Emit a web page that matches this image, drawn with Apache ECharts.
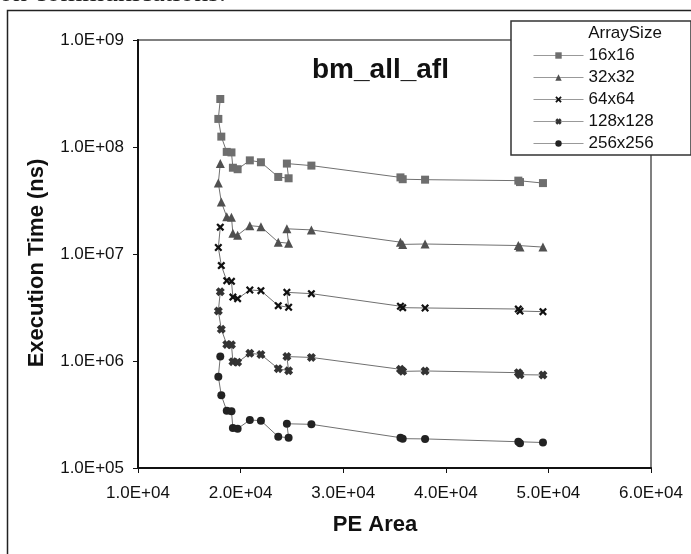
<!DOCTYPE html>
<html lang="en">
<head>
  <meta charset="UTF-8">
  <title>bm_all_afl</title>
  <style>
    html, body {margin: 0; padding: 0; background: #fff;}
    #chart {width: 691px; height: 554px;}
  </style>
</head>
<body>
  <div id="chart"></div>
  <script src="https://cdn.jsdelivr.net/npm/echarts@6/dist/echarts.min.js"></script>
  <script>
    // PE area (x) shared by all series, in plotting order
    var peArea = [18020, 17830, 18120, 18650, 19110, 19250, 19710, 20900, 21980, 23670,
                  24680, 24510, 26900, 35580, 35800, 37980, 47070, 47230, 49470];

    // execution time (ns), one array per array size
    var t16 = [2.81e8, 1.83e8, 1.25e8, 9.0e7, 8.9e7, 6.4e7, 6.2e7, 7.5e7, 7.2e7, 5.25e7,
               5.1e7, 7.0e7, 6.7e7, 5.2e7, 5.0e7, 4.95e7, 4.85e7, 4.7e7, 4.6e7];
    var t32 = [7.0e7, 4.6e7, 3.06e7, 2.23e7, 2.2e7, 1.56e7, 1.5e7, 1.84e7, 1.8e7, 1.29e7,
               1.26e7, 1.72e7, 1.68e7, 1.29e7, 1.23e7, 1.24e7, 1.2e7, 1.16e7, 1.16e7];
    var t64 = [1.78e7, 1.15e7, 7.8e6, 5.63e6, 5.55e6, 3.96e6, 3.82e6, 4.61e6, 4.54e6, 3.29e6,
               3.18e6, 4.38e6, 4.26e6, 3.25e6, 3.15e6, 3.13e6, 3.06e6, 2.93e6, 2.89e6];
    var t128 = [4.44e6, 2.93e6, 1.98e6, 1.43e6, 1.42e6, 9.86e5, 9.72e5, 1.18e6, 1.15e6, 8.48e5,
                8.1e5, 1.1e6, 1.08e6, 8.36e5, 8.0e5, 8.07e5, 7.78e5, 7.45e5, 7.4e5];
    var t256 = [1.1e6, 7.14e5, 4.78e5, 3.43e5, 3.39e5, 2.36e5, 2.33e5, 2.81e5, 2.77e5, 1.96e5,
                1.92e5, 2.59e5, 2.56e5, 1.92e5, 1.88e5, 1.87e5, 1.76e5, 1.70e5, 1.73e5];

    var sizeNames = ['16x16', '32x32', '64x64', '128x128', '256x256'];
    var times = [t16, t32, t64, t128, t256];

    var font = 'Liberation Sans, Arial, sans-serif';

    // markers like the excel ones
    var markers = [
      {symbol: 'rect', size: 8, color: '#6e6e6e'},
      {symbol: 'triangle', size: 9, color: '#505050'},
      {symbol: 'path://M0,2 L2,0 L5,3 L8,0 L10,2 L7,5 L10,8 L8,10 L5,7 L2,10 L0,8 L3,5 Z', size: 8, color: '#111'},
      {symbol: 'path://M0,3 L3,0 L5,2 L7,0 L10,3 L8,5 L10,7 L7,10 L5,8 L3,10 L0,7 L2,5 Z', size: 9, color: '#333'},
      {symbol: 'circle', size: 8, color: '#222'}
    ];

    // 1.0E+05 style labels
    function sci(v) {
      var e = Math.floor(Math.log10(v) + 1e-9);
      var m = (v / Math.pow(10, e)).toFixed(1);
      return m + 'E+' + (e < 10 ? '0' : '') + e;
    }

    var series = sizeNames.map(function (name, i) {
      return {
        name: name,
        type: 'line',
        symbol: markers[i].symbol,
        symbolSize: markers[i].size,
        itemStyle: {color: markers[i].color},
        lineStyle: {color: '#707070', width: 1},
        animation: false,
        data: peArea.map(function (x, j) { return [x, times[i][j]]; })
      };
    });

    var chart = echarts.init(document.getElementById('chart'));

    var option = {
      animation: false,
      grid: {
        left: 138, right: 40, top: 40, bottom: 86,
        show: true,
        borderColor: '#808080',
        borderWidth: 2,
        outerBoundsMode: 'none'
      },
      legend: {
        orient: 'vertical',
        left: 533,
        top: 47,
        padding: 0,
        itemWidth: 50,
        itemHeight: 8,
        itemGap: 5,
        z: 10,
        lineStyle: {color: '#999', width: 1},
        textStyle: {fontFamily: font, fontSize: 17, color: '#111'},
        data: sizeNames
      },
      xAxis: {
        type: 'value',
        min: 10000,
        max: 60000,
        interval: 10000,
        axisLine: {lineStyle: {color: '#111', width: 2}},
        axisTick: {show: true, length: 5, lineStyle: {color: '#111'}},
        splitLine: {show: false},
        axisLabel: {
          margin: 17,
          fontFamily: font, fontSize: 17, color: '#111',
          formatter: function (v) { return sci(v); }
        }
      },
      yAxis: {
        type: 'log',
        logBase: 10,
        min: 1e5,
        max: 1e9,
        axisLine: {show: true, lineStyle: {color: '#111', width: 2}},
        axisTick: {show: true, length: 5, lineStyle: {color: '#111'}},
        minorTick: {show: false},
        splitLine: {show: false},
        axisLabel: {
          margin: 14,
          fontFamily: font, fontSize: 17, color: '#111',
          formatter: function (v) { return sci(v); }
        }
      },
      graphic: [
        // outer frame
        {type: 'rect', z: 1, shape: {x: 7.5, y: 10.5, width: 720, height: 600},
         style: {fill: null, stroke: '#222', lineWidth: 1.5}},
        // cut-off caption text above the frame
        {type: 'text', z: 1, x: -1, y: 8,
         style: {text: 'on communications.', font: '28px "Liberation Serif", serif', fill: '#222', verticalAlign: 'bottom'}},
        // legend box
        {type: 'rect', z: 5, shape: {x: 511, y: 21, width: 180, height: 134},
         style: {fill: '#fff', stroke: '#333', lineWidth: 1.5}},
        {type: 'text', z: 6, x: 625, y: 33,
         style: {text: 'ArraySize', font: '17px ' + font, fill: '#111', align: 'center', verticalAlign: 'middle'}},
        // chart title
        {type: 'text', z: 6, x: 312, y: 70,
         style: {text: 'bm_all_afl', font: 'bold 28px ' + font, fill: '#111', align: 'left', verticalAlign: 'middle'}},
        // axis titles
        {type: 'text', z: 6, x: 37, y: 263, rotation: Math.PI / 2,
         style: {text: 'Execution Time (ns)', font: 'bold 22px ' + font, fill: '#111', align: 'center', verticalAlign: 'middle'}},
        {type: 'text', z: 6, x: 375, y: 525,
         style: {text: 'PE Area', font: 'bold 22px ' + font, fill: '#111', align: 'center', verticalAlign: 'middle'}}
      ],
      series: series
    };

    chart.setOption(option);
  </script>
</body>
</html>
